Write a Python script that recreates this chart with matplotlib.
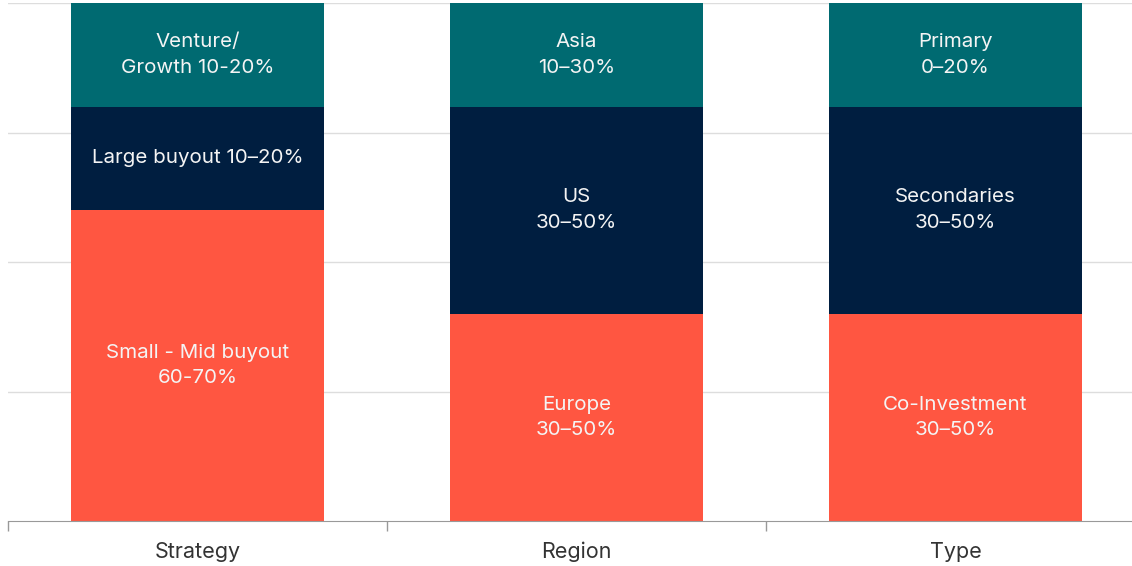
import matplotlib.pyplot as plt
import numpy as np

plt.rcParams['font.family'] = ['Inter', 'DejaVu Sans']

categories = ['Strategy', 'Region', 'Type']
bottom_vals = [60, 40, 40]
middle_vals = [20, 40, 40]
top_vals = [20, 20, 20]

bottom_labels = ['Small - Mid buyout\n60-70%', 'Europe\n30\u201350%', 'Co-Investment\n30\u201350%']
middle_labels = ['Large buyout 10\u201320%', 'US\n30\u201350%', 'Secondaries\n30\u201350%']
top_labels = ['Venture/\nGrowth 10-20%', 'Asia\n10\u201330%', 'Primary\n0\u201320%']

colors = ['#FF5641', '#001E40', '#006A71']

fig = plt.figure(figsize=(11.32, 5.66), dpi=100)
# axes runs past the right edge, like the original
ax = fig.add_axes([8 / 1132, 45 / 566, 1137 / 1132, 518 / 566])

x = np.arange(len(categories))
width = 0.667

b1 = np.array(bottom_vals)
b2 = b1 + np.array(middle_vals)

layers = [
    (bottom_vals, np.zeros(3), bottom_labels),
    (middle_vals, b1, middle_labels),
    (top_vals, b2, top_labels),
]

for (vals, base, labels), c in zip(layers, colors):
    ax.bar(x, vals, width, bottom=base, color=c, zorder=2)
    for i in range(len(x)):
        ax.text(x[i], base[i] + vals[i] / 2, labels[i], ha='center', va='center',
                color='#F4F4F4', fontsize=14.8, linespacing=1.55, zorder=3)

ax.set_xlim(-0.5, 2.5)
ax.set_ylim(0, 100)
ax.set_yticks([25, 50, 75, 100])
ax.yaxis.grid(True, color='#DDDDDD', linewidth=1, zorder=0)
ax.tick_params(axis='y', length=0, labelleft=False)

ax.set_xticks(x)
ax.set_xticklabels(categories, fontsize=15.5, color='#333333')
ax.set_xticks([-0.5, 0.5, 1.5, 2.5], minor=True)
ax.tick_params(axis='x', which='major', length=0, pad=15)
ax.tick_params(axis='x', which='minor', length=7, color='#999999', width=1)

for s in ['top', 'right', 'left']:
    ax.spines[s].set_visible(False)
ax.spines['bottom'].set_color('#999999')

plt.savefig('out.png', dpi=100)
